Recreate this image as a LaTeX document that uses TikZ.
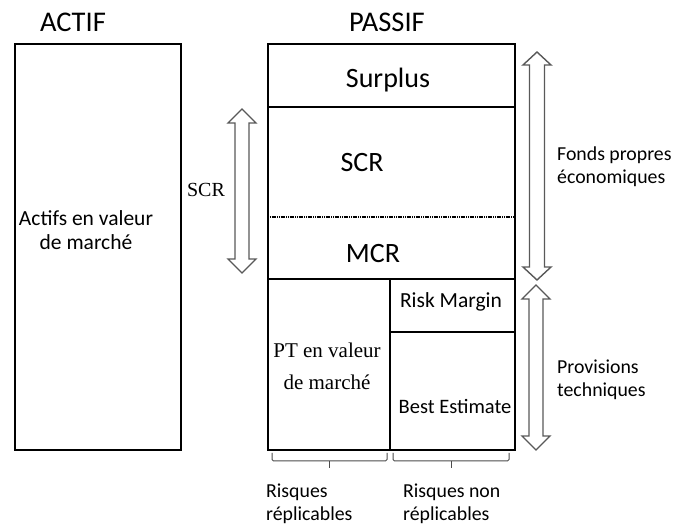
\documentclass[tikz,border=0pt]{standalone}
\usepackage{fontspec}
\setmainfont{Carlito}
\newfontfamily\timesfont{Liberation Serif}
\begin{document}
\begin{tikzpicture}[x=1pt,y=-1pt,
  frame/.style={line width=2.4pt,line join=miter},
  divider/.style={line width=1.5pt},
  heading/.style={font=\fontsize{28.5}{32}\selectfont,inner sep=0pt},
  bigcell/.style={font=\fontsize{28}{32}\selectfont,inner sep=0pt},
  cell/.style={font=\fontsize{21.5}{23.5}\selectfont,inner sep=0pt,align=center},
  sidenote/.style={font=\fontsize{19.8}{23}\selectfont,inner sep=0pt,align=left},
  serifnote/.style={font=\timesfont\fontsize{21}{32}\selectfont,inner sep=0pt,align=center},
  hollow/.style={draw=black!65,line width=1.4pt,line join=miter,fill=white},
  bracket/.style={draw=black!70,line width=1pt,rounded corners=1.5pt}]
\useasboundingbox (0,0) rectangle (673,526);

% hollow double arrow: centre x, top tip, bottom tip, half shaft, half head, head length
\newcommand\hollowarrow[6]{%
  \draw[hollow] (#1,#2) -- (#1+#5,#2+#6) -- (#1+#4,#2+#6) -- (#1+#4,#3-#6)
    -- (#1+#5,#3-#6) -- (#1,#3) -- (#1-#5,#3-#6) -- (#1-#4,#3-#6)
    -- (#1-#4,#2+#6) -- (#1-#5,#2+#6) -- cycle;}

% headings
\node[heading] (actif) at (73,22) {ACTIF};
\node[heading] (passif) at (387,22) {PASSIF};

% assets column
\draw[frame] (15,44) rectangle (181,450);
\node[cell] (assets) at (86,230) {Actifs en valeur\\de marché};

% liabilities column
\draw[frame] (268,44) rectangle (515,450);
\draw[divider] (268,107) -- (515,107);
\draw[line width=1.6pt,dash pattern=on 1.2pt off 0.6pt] (268,217) -- (515,217);
\draw[line width=2pt] (268,279) -- (515,279);
\draw[line width=2pt] (390,279) -- (390,450);
\draw[line width=2pt] (390,332) -- (515,332);

\node[bigcell] (surplus) at (388,80) {Surplus};
\node[bigcell] (scr) at (362,163) {SCR};
\node[bigcell] (mcr) at (373,254) {MCR};
\node[cell] (rm) at (451,302) {Risk Margin};
\node[cell,font=\fontsize{20.5}{23.5}\selectfont] (be) at (455,406) {Best Estimate};
\node[serifnote] (pt) at (327,366) {PT en valeur\\de marché};

% arrows
\hollowarrow{242}{109}{273}{7}{14}{14}
\hollowarrow{537}{52}{280}{7.5}{14}{13}
\hollowarrow{536}{285}{450}{7}{14}{14}

\node[font=\timesfont\fontsize{20}{24}\selectfont,inner sep=0pt] (scrside) at (206,190) {SCR};
\node[sidenote,anchor=west] (fp) at (557,167) {Fonds propres\\économiques};
\node[sidenote,anchor=west] (prov) at (557,380) {Provisions\\techniques};

% brackets under the technical provisions
\draw[bracket] (272,453) -- (272,461) -- (387,461) -- (387,453);
\draw[bracket] (329,461) -- (329,468);
\draw[bracket] (393,453) -- (393,461) -- (509,461) -- (509,453);
\draw[bracket] (451,461) -- (451,468);

\node[sidenote,anchor=west] (rep) at (266,504) {Risques\\réplicables};
\node[sidenote,anchor=west] (nonrep) at (403,504) {Risques non\\réplicables};
\end{tikzpicture}
\end{document}
